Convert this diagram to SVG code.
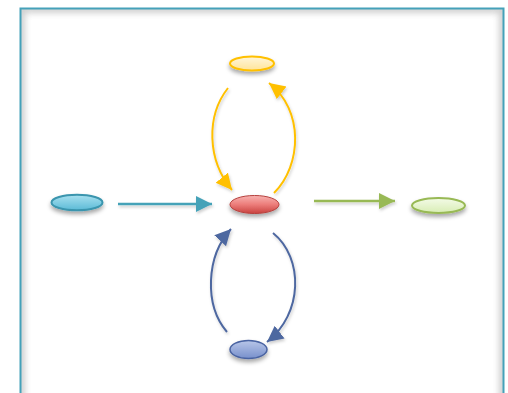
<svg xmlns="http://www.w3.org/2000/svg" width="508" height="393" viewBox="0 0 508 393">
<style>
.node{filter:url(#sh)}
.conn path{fill:none;stroke-width:2;filter:url(#ash)}
.conn path.line{stroke-width:2.5}
</style>
<defs>
<filter id="sh" x="-50%" y="-50%" width="200%" height="250%">
<feDropShadow dx="0" dy="3" stdDeviation="2" flood-color="#000" flood-opacity="0.35"/>
</filter>
<filter id="ash" filterUnits="userSpaceOnUse" x="0" y="0" width="508" height="393">
<feDropShadow dx="1" dy="2" stdDeviation="1.5" flood-color="#000" flood-opacity="0.2"/>
</filter>
<filter id="blur"><feGaussianBlur stdDeviation="3"/></filter>
<clipPath id="inner"><rect x="21" y="9" width="482" height="400"/></clipPath>
<linearGradient id="gY" x1="0" y1="0" x2="0" y2="1"><stop offset="0" stop-color="#FFF6DA"/><stop offset="1" stop-color="#FFE49A"/></linearGradient>
<linearGradient id="gR" x1="0" y1="0" x2="0" y2="1"><stop offset="0" stop-color="#F8B3B1"/><stop offset="0.5" stop-color="#EC7D7A"/><stop offset="1" stop-color="#C9423F"/></linearGradient>
<linearGradient id="gB" x1="0" y1="0" x2="0" y2="1"><stop offset="0" stop-color="#B8C6E8"/><stop offset="1" stop-color="#7890CC"/></linearGradient>
<linearGradient id="gC" x1="0" y1="0" x2="0" y2="1"><stop offset="0" stop-color="#A9E1F0"/><stop offset="1" stop-color="#5BBAD6"/></linearGradient>
<linearGradient id="gG" x1="0" y1="0" x2="0" y2="1"><stop offset="0" stop-color="#F4FBE8"/><stop offset="1" stop-color="#D8EDB4"/></linearGradient>
<marker id="mC" markerUnits="userSpaceOnUse" markerWidth="18" markerHeight="18" refX="16" refY="8" orient="auto"><path d="M0,0 L16,8 L0,16 Z" fill="#44A2B8"/></marker>
<marker id="mG" markerUnits="userSpaceOnUse" markerWidth="18" markerHeight="18" refX="16" refY="8" orient="auto"><path d="M0,0 L16,8 L0,16 Z" fill="#98B954"/></marker>
<marker id="mY" markerUnits="userSpaceOnUse" markerWidth="18" markerHeight="18" refX="16" refY="8" orient="auto"><path d="M0,0 L16,8 L0,16 Z" fill="#FFC000"/></marker>
<marker id="mB" markerUnits="userSpaceOnUse" markerWidth="18" markerHeight="18" refX="16" refY="8" orient="auto"><path d="M0,0 L16,8 L0,16 Z" fill="#4E67A0"/></marker>
</defs>
<rect x="0" y="0" width="508" height="393" fill="#fff"/>
<g id="frame">
<g clip-path="url(#inner)">
<rect x="21" y="9" width="482" height="400" fill="none" stroke="#cfcfcf" stroke-width="8" filter="url(#blur)"/>
</g>
<rect x="20.5" y="8.5" width="483" height="400" fill="none" stroke="#45A1B9" stroke-width="2"/>
</g>
<g id="connectors" class="conn">
<path class="line" d="M118,204 L212,204" stroke="#44A2B8" marker-end="url(#mC)"/>
<path class="line" d="M314,201 L395,201" stroke="#98B954" marker-end="url(#mG)"/>
<path d="M228,88 C206,116 207,160 232,190" stroke="#FFC000" marker-end="url(#mY)"/>
<path d="M274,193 C302,165 304,110 269,83" stroke="#FFC000" marker-end="url(#mY)"/>
<path d="M227,332 C204,305 206,256 231,229" stroke="#4E67A0" marker-end="url(#mB)"/>
<path d="M273,233 C304,258 303,314 267,342" stroke="#4E67A0" marker-end="url(#mB)"/>
</g>
<g id="node-top" class="node"><ellipse cx="252" cy="63.5" rx="22" ry="7" fill="url(#gY)" stroke="#FFC000" stroke-width="2"/></g>
<g id="node-center" class="node"><ellipse cx="254.5" cy="204.5" rx="24.5" ry="9" fill="url(#gR)" stroke="#B5403D" stroke-width="1"/></g>
<g id="node-bottom" class="node"><ellipse cx="248.5" cy="349.5" rx="18.5" ry="9" fill="url(#gB)" stroke="#4A64A2" stroke-width="1.5"/></g>
<g id="node-left" class="node"><ellipse cx="77" cy="202.5" rx="25.5" ry="7.8" fill="url(#gC)" stroke="#3A95AE" stroke-width="2"/></g>
<g id="node-right" class="node"><ellipse cx="438.5" cy="205.5" rx="26.5" ry="7.5" fill="url(#gG)" stroke="#98B954" stroke-width="2"/></g>
</svg>
